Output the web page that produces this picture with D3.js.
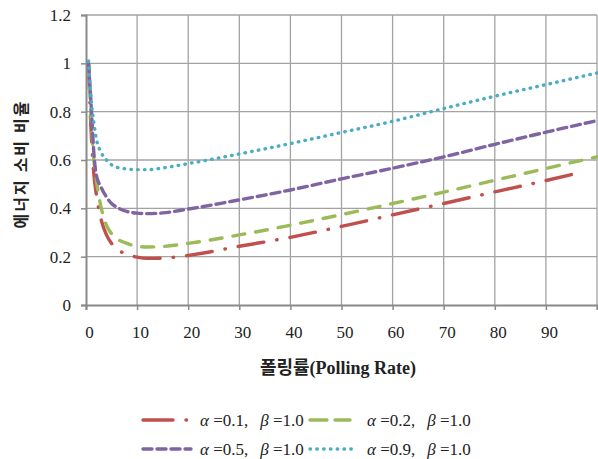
<!DOCTYPE html>
<html>
<head>
<meta charset="utf-8">
<script src="https://cdn.jsdelivr.net/npm/d3@7"></script>
<style>
  body { margin: 0; background: #fff; }
  svg { display: block; }
  text { font-family: "Liberation Serif", "Noto Sans CJK KR", serif; fill: #222; }
</style>
</head>
<body>
<svg id="chart" width="598" height="459"></svg>
<script>
"use strict";

// polling rate samples
const xValues = [0.5, 1, 1.5, 2, 3, 4, 5, 6, 8, 10, 12, 15, 20, 30, 40, 50, 60, 70, 80, 90, 100];
const seriesA01 = [1.0, 0.72, 0.55, 0.46, 0.35, 0.29, 0.255, 0.232, 0.21, 0.198, 0.193, 0.194, 0.205, 0.243, 0.28, 0.325, 0.373, 0.42, 0.468, 0.515, null];
const seriesA02 = [1.0, 0.78, 0.61, 0.52, 0.40, 0.33, 0.295, 0.275, 0.255, 0.243, 0.24, 0.242, 0.255, 0.29, 0.33, 0.374, 0.42, 0.467, 0.516, 0.565, 0.613];
const seriesA05 = [1.0, 0.83, 0.64, 0.54, 0.485, 0.447, 0.42, 0.405, 0.387, 0.38, 0.378, 0.381, 0.397, 0.435, 0.476, 0.522, 0.566, 0.613, 0.665, 0.715, 0.763];
const seriesA09 = [1.01, 0.85, 0.76, 0.69, 0.63, 0.60, 0.58, 0.57, 0.563, 0.56, 0.56, 0.567, 0.585, 0.625, 0.668, 0.714, 0.76, 0.813, 0.864, 0.912, 0.96];
const redEnd = [97, 0.55];

const xTicks = [0, 10, 20, 30, 40, 50, 60, 70, 80, 90];
const yTicks = [0, 0.2, 0.4, 0.6, 0.8, 1, 1.2];
const legendAlpha = ["0.1", "0.2", "0.5", "0.9"];
const legendBeta = "1.0";

const svg = d3.select("#chart");
const pLeft = 86, pRight = 597, pTop = 15, pBottom = 305;

const x = d3.scaleLinear().domain([0, 100]).range([pLeft, pRight]);
const y = d3.scaleLinear().domain([0, 1.2]).range([pBottom, pTop]);

// grid
const grid = svg.append("g").attr("class", "grid");
grid.selectAll("line.v")
  .data(d3.range(10, 101, 10))
  .join("line")
  .attr("x1", d => x(d)).attr("x2", d => x(d))
  .attr("y1", pTop).attr("y2", pBottom)
  .attr("stroke", "#a3a3a3").attr("stroke-width", 1.3);
grid.selectAll("line.h")
  .data(yTicks.slice(1))
  .join("line")
  .attr("x1", pLeft).attr("x2", pRight)
  .attr("y1", d => y(d)).attr("y2", d => y(d))
  .attr("stroke", "#a3a3a3").attr("stroke-width", 1.3);

// axes
const xAxis = svg.append("g")
  .attr("transform", `translate(0,${pBottom})`)
  .call(d3.axisBottom(x).tickValues(d3.range(0, 101, 10)).tickSize(5)
    .tickFormat(d => xTicks.includes(d) ? d : ""));
xAxis.select(".domain").attr("stroke", "#8a8a8a").attr("stroke-width", 2);
xAxis.selectAll(".tick line").attr("stroke", "#8a8a8a").attr("stroke-width", 1.5);
xAxis.selectAll("text")
  .attr("font-size", 17).attr("font-family", "Liberation Serif").attr("fill", "#222")
  .attr("dy", null).attr("y", 33)
  .attr("transform", "translate(3, 0)");

const yAxis = svg.append("g")
  .attr("transform", `translate(${pLeft},0)`)
  .call(d3.axisLeft(y).tickValues(yTicks).tickSize(5).tickFormat(d3.format("")));
yAxis.select(".domain").attr("stroke", "#8a8a8a").attr("stroke-width", 2);
yAxis.selectAll(".tick line").attr("stroke", "#8a8a8a").attr("stroke-width", 1.5);
yAxis.selectAll("text")
  .attr("font-size", 17).attr("font-family", "Liberation Serif").attr("fill", "#222")
  .attr("transform", "translate(-7, 0)");

// series
const styles = [
  { data: seriesA01, color: "#C0504D", dash: "26,13,0.5,13", end: redEnd },
  { data: seriesA02, color: "#9BBB59", dash: "12,11" },
  { data: seriesA05, color: "#8064A2", dash: "9,5" },
  { data: seriesA09, color: "#4BACC6", dash: "0.5,6.3" }
];

const line = d3.line()
  .x(d => x(d[0])).y(d => y(d[1]))
  .curve(d3.curveMonotoneX);

styles.forEach(s => {
  let pts = xValues.map((v, i) => [v, s.data[i]]).filter(d => d[1] != null);
  if (s.end) pts.push(s.end);
  svg.append("path")
    .datum(pts)
    .attr("d", line)
    .attr("fill", "none")
    .attr("stroke", s.color)
    .attr("stroke-width", 3.4)
    .attr("stroke-linecap", "round")
    .attr("stroke-dasharray", s.dash);
});

// axis titles
svg.append("text")
  .attr("x", 338).attr("y", 374)
  .attr("text-anchor", "middle")
  .attr("font-size", 18).attr("font-weight", "bold")
  .text("폴링률(Polling Rate)");

svg.append("text")
  .attr("transform", "translate(27,164) rotate(-90)")
  .attr("text-anchor", "middle")
  .attr("font-size", 16).attr("font-weight", "bold")
  .attr("font-family", "Noto Sans CJK KR")
  .attr("letter-spacing", 2)
  .text("에너지 소비 비율");

// legend
const legendPos = [[143, 420], [310, 420], [143, 449], [310, 449]];
const legendLineLen = [48, 40, 48, 42];
const legendTextX = [200, 367, 200, 367];
styles.forEach((s, i) => {
  const [lx, ly] = legendPos[i];
  const lg = svg.append("g");
  lg.append("line")
    .attr("x1", lx).attr("x2", lx + legendLineLen[i])
    .attr("y1", ly).attr("y2", ly)
    .attr("stroke", s.color).attr("stroke-width", 3.4)
    .attr("stroke-linecap", "round")
    .attr("stroke-dasharray", i === 0 ? "30,13,0.5,40" : (i === 1 ? "17,8" : s.dash));
  const t = lg.append("text")
    .attr("x", legendTextX[i]).attr("y", ly + 6)
    .attr("font-size", 17);
  t.append("tspan").attr("font-style", "italic").text("α");
  t.append("tspan").text(" =" + legendAlpha[i] + ",");
  t.append("tspan").attr("dx", 12).attr("font-style", "italic").text("β");
  t.append("tspan").text(" =" + legendBeta);
});
</script>
</body>
</html>
